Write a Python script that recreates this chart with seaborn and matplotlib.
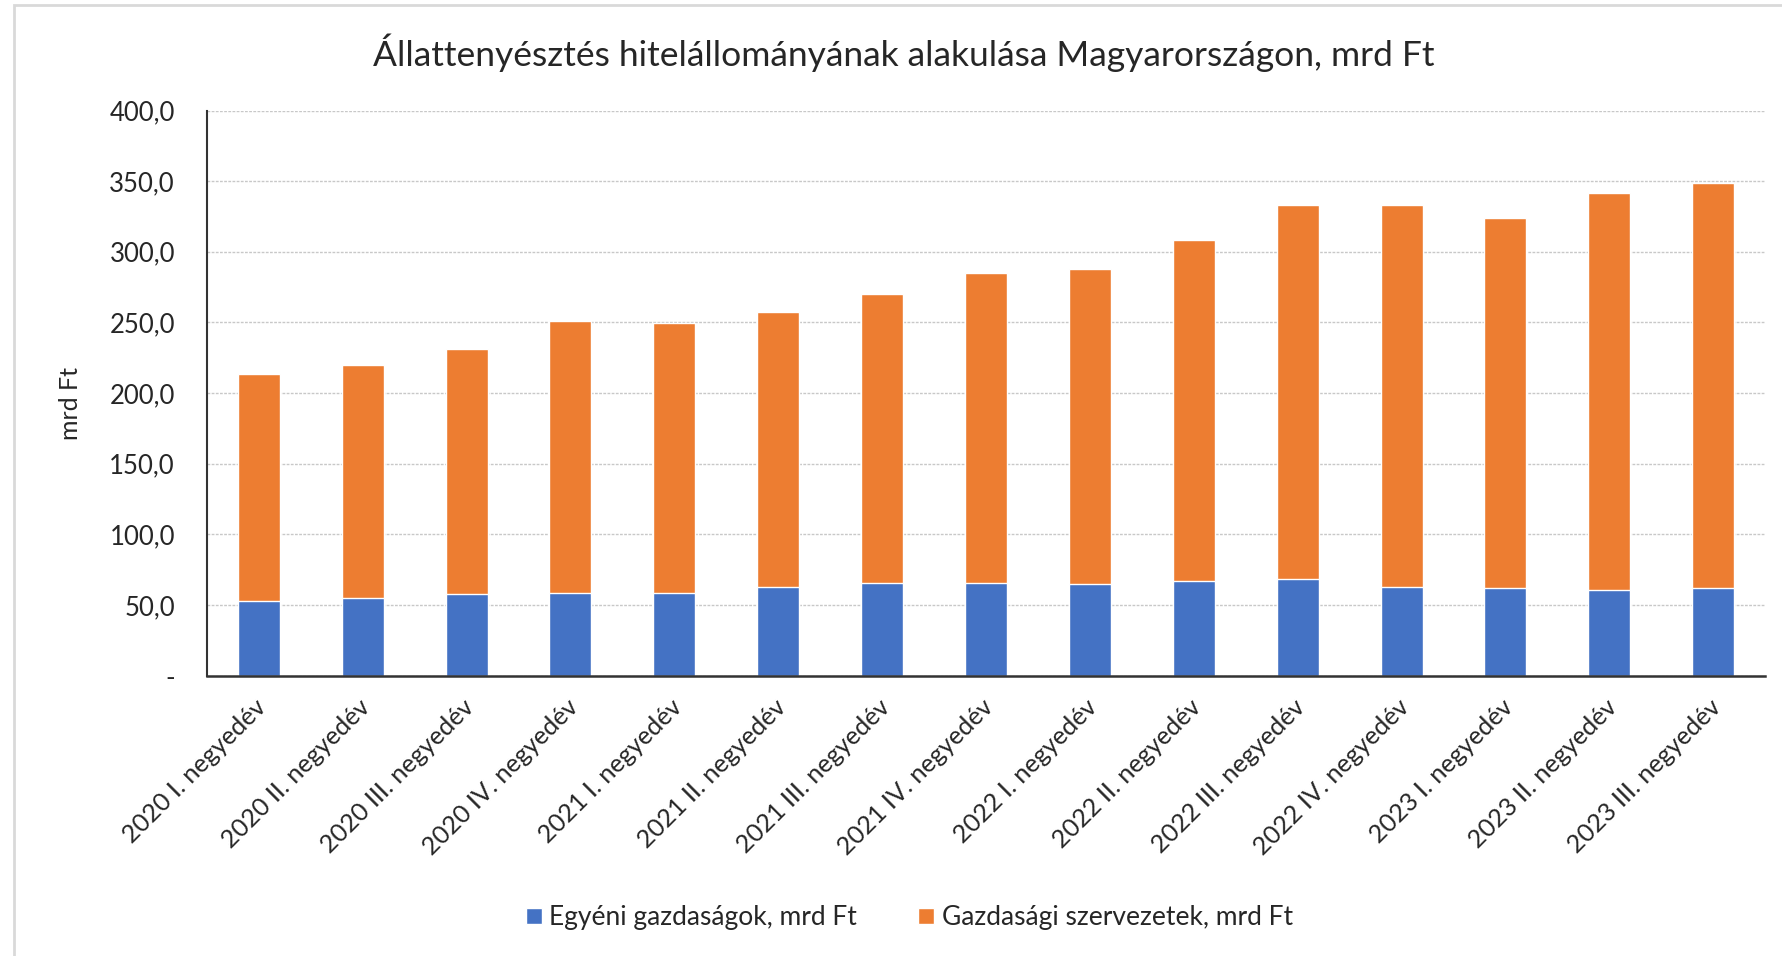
import numpy as np
import pandas as pd
import matplotlib
matplotlib.use('Agg')
import matplotlib.pyplot as plt
from matplotlib.patches import Patch, Rectangle
from matplotlib.transforms import ScaledTranslation
import seaborn as sns

# adatok
negyedevek = ['2020 I. negyedév', '2020 II. negyedév', '2020 III. negyedév', '2020 IV. negyedév',
              '2021 I. negyedév', '2021 II. negyedév', '2021 III. negyedév', '2021 IV. negyedév',
              '2022 I. negyedév', '2022 II. negyedév', '2022 III. negyedév', '2022 IV. negyedév',
              '2023 I. negyedév', '2023 II. negyedév', '2023 III. negyedév']
egyeni = [52.9, 55.2, 57.8, 58.7, 58.7, 62.8, 65.4, 65.3, 65.0, 67.2, 68.2, 62.8, 61.9, 60.9, 61.9]
szervezetek = [160.4, 164.5, 173.4, 192.3, 190.7, 194.6, 205.0, 219.7, 222.9, 241.1, 265.0, 270.1, 261.8, 280.8, 286.9]

df = pd.DataFrame({'negyedev': negyedevek, 'egyeni': egyeni, 'szervezetek': szervezetek})
df['osszes'] = df['egyeni'] + df['szervezetek']

KEK = '#4472C4'
NARANCS = '#ED7D31'

sns.set_style('white')
plt.rcParams['font.family'] = ['Lato', 'DejaVu Sans']

fig = plt.figure(figsize=(17.83, 9.56), dpi=100)
ax = fig.add_axes([0.116, 0.2932, 0.874, 0.5912])

sns.barplot(data=df, x='negyedev', y='osszes', color=NARANCS, width=0.405, saturation=1, ax=ax)
sns.barplot(data=df, x='negyedev', y='egyeni', color=KEK, width=0.405, saturation=1, ax=ax)

ax.set_ylim(0, 400)
ax.set_xlim(-0.5, 14.5)
ax.set_yticks(np.arange(0, 401, 50))
ax.set_yticklabels(['-'] + [f'{v:.1f}'.replace('.', ',') for v in np.arange(50, 401, 50)], fontsize=18.5)
ax.yaxis.grid(True, color='#C8C8C8', linestyle=(0, (2, 1)), linewidth=1)
ax.set_axisbelow(True)
ax.tick_params(axis='y', length=0, pad=23)
ax.tick_params(axis='x', length=0, pad=26)

ax.set_xticks(range(len(negyedevek)))
ax.set_xticklabels(negyedevek, rotation=45, ha='right', va='bottom', rotation_mode='anchor', fontsize=18.2)
eltolas = ScaledTranslation(0.12, 0, fig.dpi_scale_trans)
for lbl in ax.get_xticklabels():
    lbl.set_transform(lbl.get_transform() + eltolas)

for s in ['top', 'right']:
    ax.spines[s].set_visible(False)
ax.spines['left'].set_color('#333333')
ax.spines['bottom'].set_color('#333333')
ax.spines['left'].set_linewidth(1.5)
ax.spines['bottom'].set_linewidth(1.8)

ax.set_xlabel('')
ax.set_ylabel('mrd Ft', fontsize=18)
ax.yaxis.set_label_coords(-0.08, 0.481)

fig.text(0.507, 0.945, 'Állattenyésztés hitelállományának alakulása Magyarországon, mrd Ft',
         ha='center', va='center', fontsize=25.5)

handles = [Patch(facecolor=KEK, label='Egyéni gazdaságok, mrd Ft'),
           Patch(facecolor=NARANCS, label='Gazdasági szervezetek, mrd Ft')]
fig.legend(handles=handles, loc='center', bbox_to_anchor=(0.51, 0.04), ncol=2, frameon=False,
           fontsize=19, handlelength=0.6, handleheight=0.6, handletextpad=0.3, columnspacing=2.3)

# diagram keret
fig.patches.append(Rectangle((0.008, -0.01), 1.1, 1.005, transform=fig.transFigure,
                             fill=False, edgecolor='#D9D9D9', linewidth=2))

fig.savefig('out.png', dpi=100)
